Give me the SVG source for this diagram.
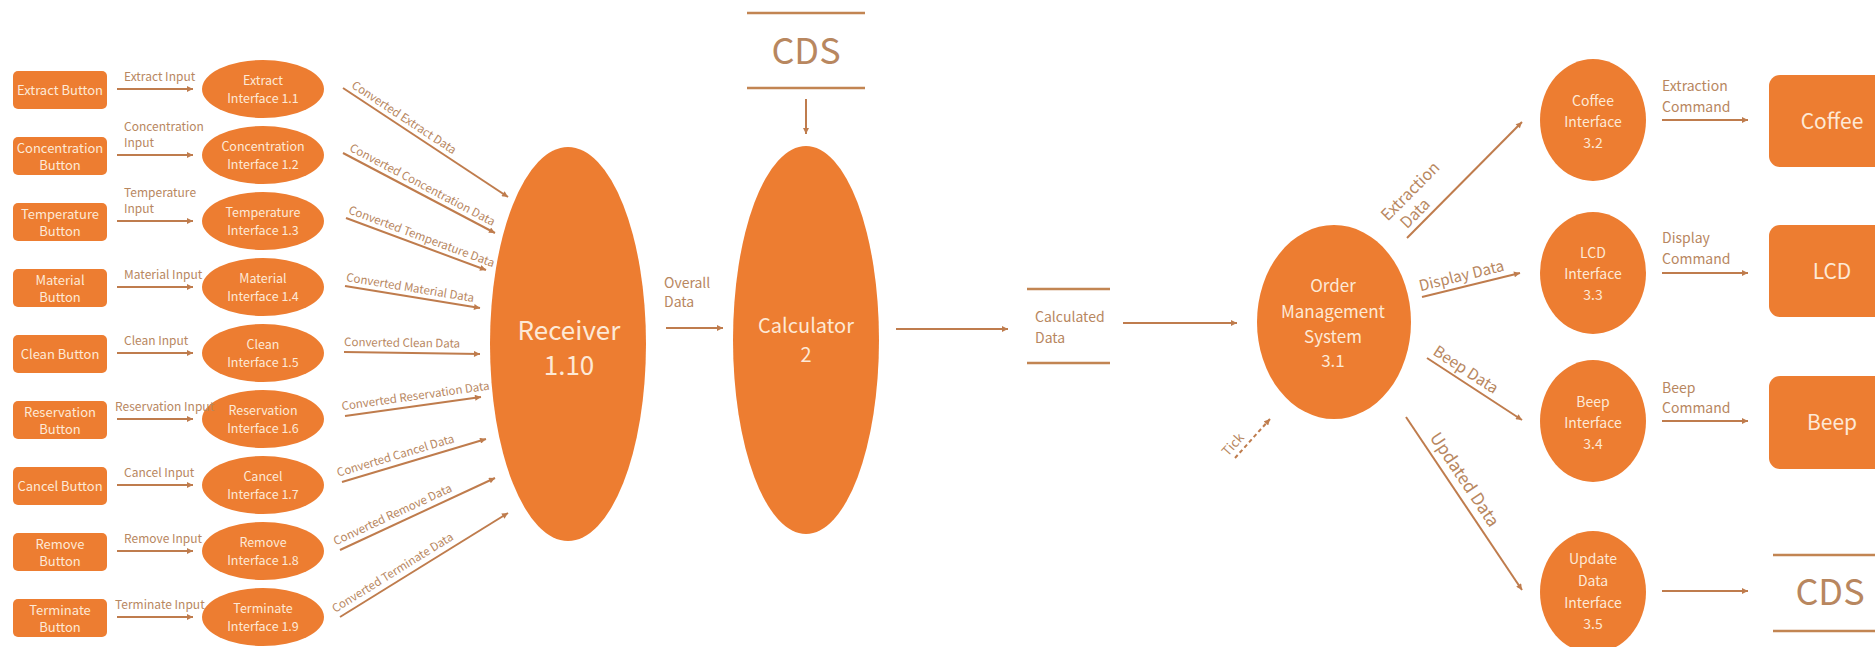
<svg xmlns="http://www.w3.org/2000/svg" width="1875" height="647" viewBox="0 0 1875 647">
<defs>
<style>
.n{fill:#ED7D31}
.t{font-family:"Noto Sans CJK KR","Liberation Sans",sans-serif;fill:#FDE9D6;text-anchor:middle}
.l{font-family:"Noto Sans CJK KR","Liberation Sans",sans-serif;fill:#B8875F}
.c{stroke:#BF7C4D;stroke-width:2;fill:none;marker-end:url(#ah)}
.s{stroke:#C28552;stroke-width:2.5}
</style>
<marker id="ah" viewBox="0 0 10 10" refX="10" refY="5" markerWidth="7" markerHeight="6" markerUnits="userSpaceOnUse" orient="auto">
<path d="M0,0 L10,5 L0,10 z" fill="#BF7C4D"/>
</marker>
</defs>
<rect width="1875" height="647" fill="#FFFFFF"/>

<g id="buttons" class="t" font-size="13">
<g id="btn-extract"><rect class="n" x="13" y="71" width="94" height="38" rx="5"/><text class="t" x="60" y="95">Extract Button</text></g>
<g id="btn-concentration"><rect class="n" x="13" y="137" width="94" height="38" rx="5"/><text class="t" x="60" y="153">Concentration</text><text class="t" x="60" y="170">Button</text></g>
<g id="btn-temperature"><rect class="n" x="13" y="203" width="94" height="38" rx="5"/><text class="t" x="60" y="219">Temperature</text><text class="t" x="60" y="236">Button</text></g>
<g id="btn-material"><rect class="n" x="13" y="269" width="94" height="38" rx="5"/><text class="t" x="60" y="285">Material</text><text class="t" x="60" y="302">Button</text></g>
<g id="btn-clean"><rect class="n" x="13" y="335" width="94" height="38" rx="5"/><text class="t" x="60" y="359">Clean Button</text></g>
<g id="btn-reservation"><rect class="n" x="13" y="401" width="94" height="38" rx="5"/><text class="t" x="60" y="417">Reservation</text><text class="t" x="60" y="434">Button</text></g>
<g id="btn-cancel"><rect class="n" x="13" y="467" width="94" height="38" rx="5"/><text class="t" x="60" y="491">Cancel Button</text></g>
<g id="btn-remove"><rect class="n" x="13" y="533" width="94" height="38" rx="5"/><text class="t" x="60" y="549">Remove</text><text class="t" x="60" y="566">Button</text></g>
<g id="btn-terminate"><rect class="n" x="13" y="599" width="94" height="38" rx="5"/><text class="t" x="60" y="615">Terminate</text><text class="t" x="60" y="632">Button</text></g>
</g>

<g id="interfaces" font-size="12.5">
<g id="if-1-1"><ellipse class="n" cx="263" cy="89" rx="61" ry="29"/><text class="t" x="263" y="85">Extract</text><text class="t" x="263" y="103">Interface 1.1</text></g>
<g id="if-1-2"><ellipse class="n" cx="263" cy="155" rx="61" ry="29"/><text class="t" x="263" y="151">Concentration</text><text class="t" x="263" y="169">Interface 1.2</text></g>
<g id="if-1-3"><ellipse class="n" cx="263" cy="221" rx="61" ry="29"/><text class="t" x="263" y="217">Temperature</text><text class="t" x="263" y="235">Interface 1.3</text></g>
<g id="if-1-4"><ellipse class="n" cx="263" cy="287" rx="61" ry="29"/><text class="t" x="263" y="283">Material</text><text class="t" x="263" y="301">Interface 1.4</text></g>
<g id="if-1-5"><ellipse class="n" cx="263" cy="353" rx="61" ry="29"/><text class="t" x="263" y="349">Clean</text><text class="t" x="263" y="367">Interface 1.5</text></g>
<g id="if-1-6"><ellipse class="n" cx="263" cy="419" rx="61" ry="29"/><text class="t" x="263" y="415">Reservation</text><text class="t" x="263" y="433">Interface 1.6</text></g>
<g id="if-1-7"><ellipse class="n" cx="263" cy="485" rx="61" ry="29"/><text class="t" x="263" y="481">Cancel</text><text class="t" x="263" y="499">Interface 1.7</text></g>
<g id="if-1-8"><ellipse class="n" cx="263" cy="551" rx="61" ry="29"/><text class="t" x="263" y="547">Remove</text><text class="t" x="263" y="565">Interface 1.8</text></g>
<g id="if-1-9"><ellipse class="n" cx="263" cy="617" rx="61" ry="29"/><text class="t" x="263" y="613">Terminate</text><text class="t" x="263" y="631">Interface 1.9</text></g>
</g>

<g id="receiver"><ellipse class="n" cx="568" cy="344" rx="78" ry="197"/><text class="t" x="569" y="340" font-size="26">Receiver</text><text class="t" x="569" y="375" font-size="26">1.10</text></g>
<g id="calculator"><ellipse class="n" cx="806" cy="340" rx="73" ry="194"/><text class="t" x="806" y="333" font-size="20">Calculator</text><text class="t" x="806" y="362" font-size="20">2</text></g>
<g id="cds-top"><line class="s" x1="747" y1="13" x2="865" y2="13"/><line class="s" x1="747" y1="88" x2="865" y2="88"/><text class="l" x="806" y="64" font-size="36" text-anchor="middle">CDS</text></g>
<g id="calculated-data"><line class="s" x1="1027" y1="289" x2="1110" y2="289"/><line class="s" x1="1027" y1="363" x2="1110" y2="363"/><text class="l" x="1035" y="322" font-size="14">Calculated</text><text class="l" x="1035" y="343" font-size="14">Data</text></g>
<g id="oms"><ellipse class="n" cx="1334" cy="322" rx="77" ry="97"/><text class="t" x="1333" y="292" font-size="17">Order</text><text class="t" x="1333" y="318" font-size="17">Management</text><text class="t" x="1333" y="343" font-size="17">System</text><text class="t" x="1333" y="367" font-size="17">3.1</text></g>
<g id="if-3-2"><ellipse class="n" cx="1593" cy="120" rx="53" ry="61"/><text class="t" x="1593" y="106" font-size="14">Coffee</text><text class="t" x="1593" y="127" font-size="14">Interface</text><text class="t" x="1593" y="148" font-size="14">3.2</text></g>
<g id="if-3-3"><ellipse class="n" cx="1593" cy="273" rx="53" ry="61"/><text class="t" x="1593" y="258" font-size="14">LCD</text><text class="t" x="1593" y="279" font-size="14">Interface</text><text class="t" x="1593" y="300" font-size="14">3.3</text></g>
<g id="if-3-4"><ellipse class="n" cx="1593" cy="421" rx="53" ry="61"/><text class="t" x="1593" y="407" font-size="14">Beep</text><text class="t" x="1593" y="428" font-size="14">Interface</text><text class="t" x="1593" y="449" font-size="14">3.4</text></g>
<g id="if-3-5"><ellipse class="n" cx="1593" cy="592" rx="53" ry="61"/><text class="t" x="1593" y="564" font-size="14">Update</text><text class="t" x="1593" y="586" font-size="14">Data</text><text class="t" x="1593" y="608" font-size="14">Interface</text><text class="t" x="1593" y="629" font-size="14">3.5</text></g>
<g id="coffee"><rect class="n" x="1769" y="75" width="130" height="92" rx="11"/><text class="t" x="1832" y="129" font-size="21">Coffee</text></g>
<g id="lcd"><rect class="n" x="1769" y="225" width="130" height="92" rx="11"/><text class="t" x="1832" y="279" font-size="21">LCD</text></g>
<g id="beep"><rect class="n" x="1769" y="376" width="130" height="93" rx="11"/><text class="t" x="1832" y="430" font-size="21">Beep</text></g>
<g id="cds-bottom"><line class="s" x1="1773" y1="555" x2="1875" y2="555"/><line class="s" x1="1773" y1="631" x2="1875" y2="631"/><text class="l" x="1830" y="605" font-size="36" text-anchor="middle">CDS</text></g>

<g id="connectors">
<g font-size="12">
<line class="c" x1="117" y1="89" x2="193" y2="89"/><text class="l" x="124" y="81">Extract Input</text>
<line class="c" x1="117" y1="155" x2="193" y2="155"/><text class="l" x="124" y="131">Concentration</text><text class="l" x="124" y="147">Input</text>
<line class="c" x1="117" y1="221" x2="193" y2="221"/><text class="l" x="124" y="197">Temperature</text><text class="l" x="124" y="213">Input</text>
<line class="c" x1="117" y1="287" x2="193" y2="287"/><text class="l" x="124" y="279">Material Input</text>
<line class="c" x1="117" y1="353" x2="193" y2="353"/><text class="l" x="124" y="345">Clean Input</text>
<line class="c" x1="117" y1="419" x2="193" y2="419"/><text class="l" x="115" y="411">Reservation Input</text>
<line class="c" x1="117" y1="485" x2="193" y2="485"/><text class="l" x="124" y="477">Cancel Input</text>
<line class="c" x1="117" y1="551" x2="193" y2="551"/><text class="l" x="124" y="543">Remove Input</text>
<line class="c" x1="117" y1="617" x2="193" y2="617"/><text class="l" x="115" y="609">Terminate Input</text>
</g>
<g font-size="11.5">
<line class="c" x1="343" y1="88" x2="508" y2="197"/><text class="l" transform="translate(343,88) rotate(33.4)" x="6" y="-5">Converted Extract Data</text>
<line class="c" x1="343" y1="153" x2="495" y2="233"/><text class="l" transform="translate(343,153) rotate(27.8)" x="4" y="-5">Converted Concentration Data</text>
<line class="c" x1="346" y1="218" x2="486" y2="270"/><text class="l" transform="translate(346,218) rotate(20.4)" x="0" y="-5">Converted Temperature Data</text>
<line class="c" x1="345" y1="286" x2="480" y2="308"/><text class="l" transform="translate(345,286) rotate(9.3)" x="0" y="-5">Converted Material Data</text>
<line class="c" x1="344" y1="352" x2="480" y2="354"/><text class="l" transform="translate(344,352) rotate(0.8)" x="0" y="-6">Converted Clean Data</text>
<line class="c" x1="345" y1="416" x2="481" y2="397"/><text class="l" transform="translate(345,416) rotate(-8)" x="-2" y="-6">Converted Reservation Data</text>
<line class="c" x1="342" y1="482" x2="486" y2="439"/><text class="l" transform="translate(342,482) rotate(-16.6)" x="-2" y="-6">Converted Cancel Data</text>
<line class="c" x1="340" y1="550" x2="495" y2="478"/><text class="l" transform="translate(340,550) rotate(-24.9)" x="-2" y="-6">Converted Remove Data</text>
<line class="c" x1="340" y1="617" x2="508" y2="513"/><text class="l" transform="translate(340,617) rotate(-31.8)" x="-2" y="-6">Converted Terminate Data</text>
</g>
<line class="c" x1="666" y1="328" x2="723" y2="328"/><text class="l" x="664" y="288" font-size="14">Overall</text><text class="l" x="664" y="307" font-size="14">Data</text>
<line class="c" x1="806" y1="99" x2="806" y2="134"/>
<line class="c" x1="896" y1="329" x2="1008" y2="329"/>
<line class="c" x1="1123" y1="323" x2="1237" y2="323"/>
<line class="c" x1="1235" y1="458" x2="1270" y2="419" stroke-dasharray="4 3"/><text class="l" transform="translate(1235,458) rotate(-48)" x="-4" y="-6" font-size="13">Tick</text>
<line class="c" x1="1407" y1="238" x2="1522" y2="122"/><text class="l" transform="translate(1407,238) rotate(-45.3)" x="-2" y="-25" font-size="16">Extraction</text><text class="l" transform="translate(1407,238) rotate(-45.3)" x="6" y="-6" font-size="16">Data</text>
<line class="c" x1="1422" y1="297" x2="1520" y2="273"/><text class="l" transform="translate(1422,297) rotate(-13.8)" x="0" y="-6" font-size="15">Display Data</text>
<line class="c" x1="1427" y1="358" x2="1522" y2="420"/><text class="l" transform="translate(1427,358) rotate(33.1)" x="2" y="-6" font-size="15.5">Beep Data</text>
<line class="c" x1="1406" y1="417" x2="1522" y2="590"/><text class="l" transform="translate(1406,417) rotate(56.2)" x="30" y="-8" font-size="17">Updated Data</text>
<g font-size="14">
<line class="c" x1="1662" y1="120" x2="1748" y2="120"/><text class="l" x="1662" y="91">Extraction</text><text class="l" x="1662" y="112">Command</text>
<line class="c" x1="1662" y1="273" x2="1748" y2="273"/><text class="l" x="1662" y="243">Display</text><text class="l" x="1662" y="264">Command</text>
<line class="c" x1="1662" y1="421" x2="1748" y2="421"/><text class="l" x="1662" y="393">Beep</text><text class="l" x="1662" y="413">Command</text>
<line class="c" x1="1662" y1="591" x2="1748" y2="591"/>
</g>
</g>
</svg>
